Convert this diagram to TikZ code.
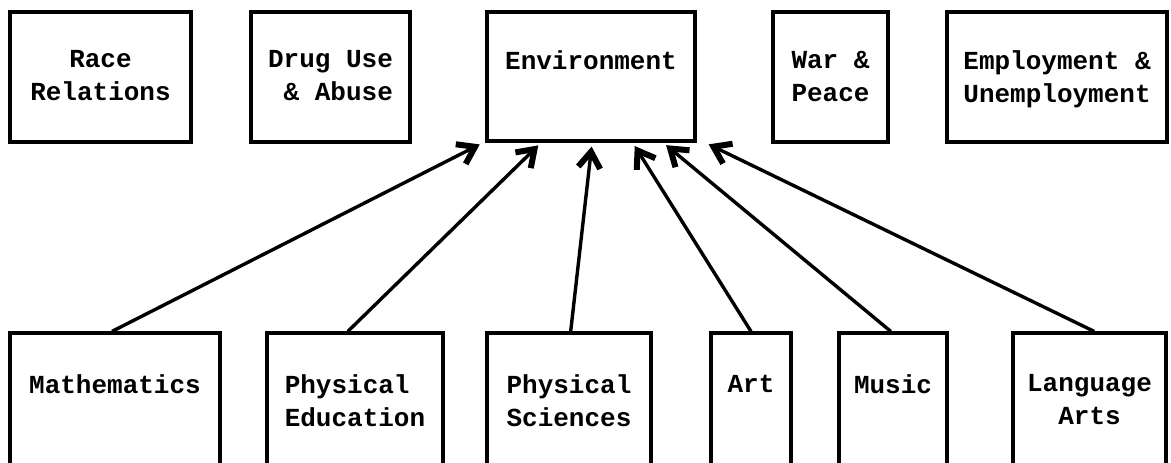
\documentclass[tikz,border=0pt]{standalone}
\usepackage{fontspec}
\newfontfamily\typefont{Liberation Mono}
\usetikzlibrary{arrows.meta,calc,fit}
\begin{document}
\begin{tikzpicture}[x=0.5pt,y=-0.5pt,
  box/.style={draw,line width=1.6pt,inner sep=0pt,rectangle},
  lbl/.style={anchor=north,inner sep=0pt,align=left,
    font=\typefont\bfseries\fontsize{13}{16.5}\selectfont},
  link/.style={line width=1.7pt,shorten >=2pt,
    -{Straight Barb[length=8pt,width=11pt,line width=3pt]}}]
\clip (0,0) rectangle (1171,462);

% themes (top row)
\node[box,fit={(10,12) (191,142)}] (race) {};
\node[box,fit={(251,12) (410,142)}] (drug) {};
\node[box,fit={(487,12) (695,141)}] (env) {};
\node[box,fit={(773,12) (888,142)}] (war) {};
\node[box,fit={(947,12) (1167,142)}] (emp) {};

\node[lbl,align=center] (raceT) at ([yshift=-20pt]race.north) {Race\\Relations};
\node[lbl,align=right] (drugT) at ([yshift=-20pt]drug.north) {Drug Use\\\& Abuse};
\node[lbl] (envT) at ([yshift=-20pt]env.north) {Environment};
\node[lbl] (warT) at ([yshift=-20pt]war.north) {War \&\\Peace};
\node[lbl] (empT) at ([yshift=-20pt]emp.north) {Employment \&\\Unemployment};

% subjects (bottom row, running past the lower edge)
\node[box,fit={(10,333) (220,490)}] (math) {};
\node[box,fit={(267,333) (443,490)}] (pe) {};
\node[box,fit={(487,333) (651,490)}] (ps) {};
\node[box,fit={(711,333) (791,490)}] (art) {};
\node[box,fit={(839,333) (947,490)}] (music) {};
\node[box,fit={(1013,333) (1166,490)}] (lang) {};

\node[lbl] (mathT) at ([yshift=-21.5pt]math.north) {Mathematics};
\node[lbl] (peT) at ([yshift=-21.5pt]pe.north) {Physical\\Education};
\node[lbl] (psT) at ([yshift=-21.5pt]ps.north) {Physical\\Sciences};
\node[lbl] (artT) at ([yshift=-21.5pt]art.north) {Art};
\node[lbl] (musicT) at ([yshift=-21.5pt]music.north) {Music};
\node[lbl,align=center] (langT) at ([yshift=-21.5pt]lang.north) {Language\\Arts};

% links into Environment
\draw[link] ($(math.north west)!0.486!(math.north east)$) -- ($(env.south west)!-0.01!(env.south east)$);
\draw[link] ($(pe.north west)!0.46!(pe.north east)$) -- ($(env.south west)!0.264!(env.south east)$);
\draw[link] ($(ps.north west)!0.51!(ps.north east)$) -- ($(env.south west)!0.505!(env.south east)$);
\draw[link] ($(art.north west)!0.5!(art.north east)$) -- ($(env.south west)!0.697!(env.south east)$);
\draw[link] ($(music.north west)!0.48!(music.north east)$) -- ($(env.south west)!0.841!(env.south east)$);
\draw[link] ($(lang.north west)!0.53!(lang.north east)$) -- ($(env.south west)!1.04!(env.south east)$);
\end{tikzpicture}
\end{document}
